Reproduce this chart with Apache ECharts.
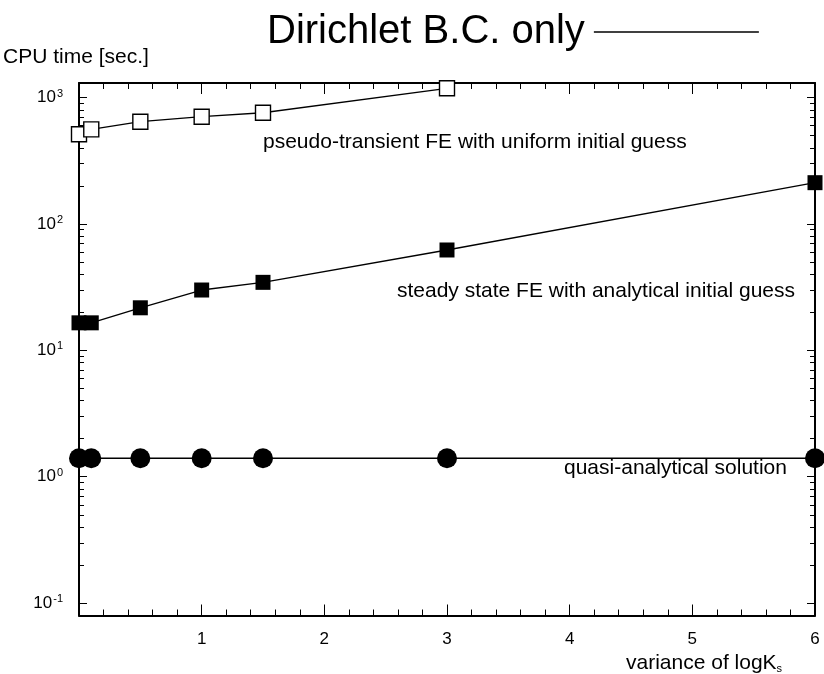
<!DOCTYPE html>
<html>
<head>
<meta charset="utf-8">
<script src="https://cdn.jsdelivr.net/npm/echarts@6/dist/echarts.min.js"></script>
<style>
  html, body { margin: 0; padding: 0; background: #fff; }
  #chart { width: 824px; height: 674px; }
</style>
</head>
<body>
<div id="chart"></div>
<script>
// Variance of logKs (x) and CPU time in seconds (y) for each solver
const variance = [0, 0.1, 0.5, 1, 1.5, 3, 6];
const pseudoTransientX = [0, 0.1, 0.5, 1, 1.5, 3];
const pseudoTransient = [512, 560, 644, 705, 758, 1183];
const steadyState = [16.5, 16.5, 21.7, 30.0, 34.5, 62.2, 212];
const quasiAnalytical = [1.4, 1.4, 1.4, 1.4, 1.4, 1.4, 1.4];

// Log-axis tick values
const yMajorTicks = [0.1, 1, 10, 100, 1000];
const yMinorTicks = [0.2, 0.3, 0.4, 0.5, 0.6, 0.7, 0.8, 0.9,
                     2, 3, 4, 5, 6, 7, 8, 9,
                     20, 30, 40, 50, 60, 70, 80, 90,
                     200, 300, 400, 500, 600, 700, 800, 900];
const xLabelHidden = [0];

const FONT = '"Liberation Sans", Arial, Helvetica, sans-serif';
const Y_MIN = 0.0798, Y_MAX = 1303;

const pairs = (xs, ys) => xs.map((x, i) => [x, ys[i]]);

const chart = echarts.init(document.getElementById('chart'), null, { renderer: 'canvas' });

const axisLine = { show: true, lineStyle: { color: '#000', width: 2 } };

function logAxis(position, ticks, len, showLine, showLabels) {
  return {
    type: 'log', logBase: 10, position: position, min: Y_MIN, max: Y_MAX,
    axisLine: showLine ? axisLine : { show: false },
    axisTick: { show: true, inside: true, length: len, customValues: ticks,
                lineStyle: { color: '#000', width: 1 } },
    axisLabel: showLabels ? {
      show: true, customValues: yMajorTicks, margin: 16, color: '#000',
      fontFamily: FONT, fontSize: 17,
      formatter: v => '10{sup|' + Math.round(Math.log10(v)) + '}',
      rich: { sup: { fontSize: 11, fontFamily: FONT, color: '#000', verticalAlign: 'top', padding: [0, 0, 8, 1] } }
    } : { show: false },
    splitLine: { show: false }
  };
}

function linAxis(position, showLabels) {
  return {
    type: 'value', position: position, min: 0, max: 6, interval: 1,
    axisLine: axisLine,
    axisTick: { show: true, inside: true, length: 11, lineStyle: { color: '#000', width: 1 } },
    minorTick: { show: true, splitNumber: 5, length: 6, lineStyle: { color: '#000', width: 1 } },
    axisLabel: showLabels ? {
      show: true, margin: 15, color: '#000', fontFamily: FONT, fontSize: 17,
      formatter: v => (xLabelHidden.includes(v) ? '' : String(v))
    } : { show: false },
    splitLine: { show: false }
  };
}

const lineStyle = { color: '#000', width: 1.3 };
const textStyle = { fontSize: 21, fontFamily: FONT, fill: '#000' };

const option = {
  backgroundColor: '#fff',
  animation: false,
  grid: { left: 79, right: 9, top: 83, bottom: 58.5, containLabel: false },
  legend: {
    data: [{ name: 'Dirichlet B.C. only', icon: 'rect' }],
    left: 262, top: 7, align: 'right', selectedMode: false,
    itemWidth: 165, itemHeight: 1.6,
    textStyle: { fontSize: 40, color: '#000', fontFamily: FONT, padding: [0, 4, 0, 0] }
  },
  xAxis: [linAxis('bottom', true), linAxis('top', false)],
  yAxis: [
    logAxis('left', yMajorTicks, 8, true, true),
    logAxis('left', yMinorTicks, 5, false, false),
    logAxis('right', yMajorTicks, 8, true, false),
    logAxis('right', yMinorTicks, 5, false, false)
  ],
  graphic: [
    { type: 'text', left: 3, top: 47, style: Object.assign({ text: 'CPU time [sec.]' }, textStyle) },
    { type: 'text', left: 263, top: 132, style: Object.assign({ text: 'pseudo-transient FE with uniform initial guess' }, textStyle) },
    { type: 'text', left: 397, top: 281, style: Object.assign({ text: 'steady state FE with analytical initial guess' }, textStyle) },
    { type: 'text', left: 564, top: 458, style: Object.assign({ text: 'quasi-analytical solution' }, textStyle) },
    { type: 'text', left: 626, top: 653, style: Object.assign({
        text: 'variance of logK{sub|s}',
        rich: { sub: { fontSize: 11, fontFamily: FONT, fill: '#000', verticalAlign: 'bottom', padding: [10, 0, 0, 0] } }
    }, textStyle) }
  ],
  series: [
    { name: 'Dirichlet B.C. only', type: 'line', data: [], color: '#000', lineStyle: lineStyle },
    {
      name: 'pseudo-transient FE with uniform initial guess', type: 'line',
      data: pairs(pseudoTransientX, pseudoTransient), clip: false,
      symbol: 'rect', symbolSize: 15, color: '#000',
      itemStyle: { color: '#fff', borderColor: '#000', borderWidth: 1.4 },
      lineStyle: lineStyle, z: 3
    },
    {
      name: 'steady state FE with analytical initial guess', type: 'line',
      data: pairs(variance, steadyState), clip: false,
      symbol: 'rect', symbolSize: 15, color: '#000',
      itemStyle: { color: '#000' }, lineStyle: lineStyle, z: 3
    },
    {
      name: 'quasi-analytical solution', type: 'line',
      data: pairs(variance, quasiAnalytical), clip: false,
      symbol: 'circle', symbolSize: 20, color: '#000',
      itemStyle: { color: '#000' }, lineStyle: lineStyle, z: 3
    }
  ]
};

chart.setOption(option);
</script>
</body>
</html>
